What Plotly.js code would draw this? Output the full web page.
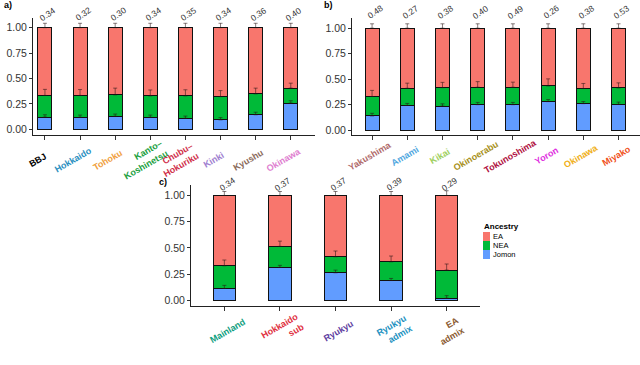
<!DOCTYPE html>
<html><head><meta charset="utf-8">
<script src="https://cdn.plot.ly/plotly-3.0.1.min.js"></script>
<style>html,body{margin:0;padding:0;background:#fff}</style>
</head><body><div id="chart" style="width:640px;height:365px"></div>
<script>
// ---- series ----
const seriesNames = ['EA', 'NEA', 'Jomon'];
const seriesColors = ['#F8766D', '#00BA38', '#619CFF'];

// ---- panel a ----
const catsA = ['BBJ', 'Hokkaido', 'Tohoku', 'Kanto–Koshinetsu', 'Chubu–Hokuriku', 'Kinki', 'Kyushu', 'Okinawa'];
const tickTextA = ['BBJ', 'Hokkaido', 'Tohoku', 'Kanto–<br>Koshinetsu', 'Chubu–<br>Hokuriku', 'Kinki', 'Kyushu', 'Okinawa'];
const tickColorsA = ['#000000', '#2A8FC0', '#F0A040', '#20A040', '#D0304A', '#A080D0', '#8A6A5A', '#E080D0'];
const jomonA = [0.120, 0.118, 0.128, 0.118, 0.108, 0.093, 0.143, 0.258];
const neaA   = [0.213, 0.215, 0.211, 0.211, 0.221, 0.229, 0.206, 0.147];
const eaA    = [0.667, 0.667, 0.661, 0.671, 0.671, 0.678, 0.651, 0.595];
const jomonErrA = [0.023, 0.022, 0.022, 0.022, 0.022, 0.022, 0.025, 0.023];
const neaErrA   = [0.060, 0.058, 0.066, 0.058, 0.060, 0.059, 0.056, 0.049];
const eaErrA    = [0.043, 0.043, 0.043, 0.043, 0.043, 0.043, 0.043, 0.043];
const labelsA = ['0.34', '0.32', '0.30', '0.34', '0.35', '0.34', '0.36', '0.40'];

// ---- panel b ----
const catsB = ['Yakushima', 'Amami', 'Kikai', 'Okinoerabu', 'Tokunoshima', 'Yoron', 'Okinawa', 'Miyako'];
const tickTextB = ['Yakushima', 'Amami', 'Kikai', 'Okinoerabu', 'Tokunoshima', 'Yoron', 'Okinawa', 'Miyako'];
const tickColorsB = ['#B06A6A', '#50A8E0', '#A0D060', '#A89020', '#B01040', '#E030E0', '#F0B020', '#F05020'];
const jomonB = [0.138, 0.241, 0.235, 0.249, 0.249, 0.279, 0.259, 0.252];
const neaB   = [0.191, 0.169, 0.181, 0.171, 0.171, 0.154, 0.148, 0.161];
const eaB    = [0.671, 0.590, 0.584, 0.580, 0.580, 0.567, 0.593, 0.587];
const jomonErrB = [0.026, 0.020, 0.022, 0.022, 0.022, 0.020, 0.020, 0.022];
const neaErrB   = [0.060, 0.050, 0.052, 0.055, 0.050, 0.069, 0.050, 0.050];
const eaErrB    = [0.043, 0.043, 0.043, 0.043, 0.043, 0.043, 0.043, 0.043];
const labelsB = ['0.48', '0.27', '0.38', '0.40', '0.49', '0.26', '0.38', '0.53'];

// ---- panel c ----
const catsC = ['Mainland', 'Hokkaido sub', 'Ryukyu', 'Ryukyu admix', 'EA admix'];
const tickTextC = ['Mainland', 'Hokkaido<br>sub', 'Ryukyu', 'Ryukyu<br>admix', 'EA<br>admix'];
const tickColorsC = ['#10A080', '#E03040', '#6040A0', '#2090C0', '#8A5A30'];
const jomonC = [0.112, 0.313, 0.262, 0.188, 0.019];
const neaC   = [0.217, 0.201, 0.153, 0.179, 0.269];
const eaC    = [0.671, 0.486, 0.585, 0.633, 0.712];
const jomonErrC = [0.030, 0.020, 0.025, 0.020, 0.025];
const neaErrC   = [0.055, 0.050, 0.055, 0.055, 0.058];
const eaErrC    = [0.038, 0.038, 0.038, 0.038, 0.045];
const labelsC = ['0.34', '0.37', '0.37', '0.39', '0.29'];

const FONT = 'Liberation Sans, Arial, Helvetica, sans-serif';
const W = 640, H = 365;

const traces = [];
const annotations = [];
function addPanel(cats, jomon, nea, ea, jErr, nErr, eErr, labels, xa, ya, labelShift) {
  const stack = [[jomon, 2], [nea, 1], [ea, 0]];
  stack.forEach(([vals, si]) => {
    traces.push({
      type: 'bar', x: cats, y: vals, xaxis: xa, yaxis: ya, name: seriesNames[si],
      width: 0.4, marker: {color: seriesColors[si], line: {color: '#111', width: 1}},
      showlegend: false, hoverinfo: 'skip'
    });
  });
  const c1 = jomon.slice();
  const c2 = jomon.map((v, i) => v + nea[i]);
  const c3 = jomon.map((v, i) => v + nea[i] + ea[i]);
  [[c1, jErr], [c2, nErr], [c3, eErr]].forEach(([ys, errs]) => {
    traces.push({
      type: 'scatter', mode: 'markers', x: cats, y: ys, xaxis: xa, yaxis: ya,
      marker: {size: 1, color: 'rgba(0,0,0,0)'}, showlegend: false, hoverinfo: 'skip',
      error_y: {type: 'data', symmetric: false, array: errs, arrayminus: errs.map(() => 0),
        color: 'rgba(40,20,20,0.55)', thickness: 1, width: 2}
    });
  });
  labels.forEach((t, i) => {
    annotations.push({xref: xa, yref: ya + ' domain', x: cats[i], y: 1, yanchor: 'middle', yshift: labelShift,
      text: t, showarrow: false, textangle: -35, xshift: 3,
      font: {family: FONT, size: 8.5, color: '#333'}});
  });
}
addPanel(catsA, jomonA, neaA, eaA, jomonErrA, neaErrA, eaErrA, labelsA, 'x', 'y', 4);
addPanel(catsB, jomonB, neaB, eaB, jomonErrB, neaErrB, eaErrB, labelsB, 'x2', 'y2', 6);
addPanel(catsC, jomonC, neaC, eaC, jomonErrC, neaErrC, eaErrC, labelsC, 'x3', 'y3', 1);

// category labels (rotated, coloured, bold), centred under each tick
function addCatLabels(cats, texts, colors, xa, ya, dx, dy) {
  cats.forEach((c, i) => {
    annotations.push({xref: xa, yref: ya + ' domain', x: c, y: 0, xanchor: 'center', yanchor: 'middle',
      xshift: dx, yshift: -dy, textangle: -30, align: 'right', showarrow: false, borderpad: 0,
      text: texts[i].split('<br>').map(p => '<b>' + p + '</b>').join('<br>'),
      font: {family: FONT, size: 9, color: colors[i]}});
  });
}
addCatLabels(catsA, tickTextA, tickColorsA, 'x', 'y', -7, 25.5);
addCatLabels(catsB, tickTextB, tickColorsB, 'x2', 'y2', -2, 21);
addCatLabels(catsC, tickTextC, tickColorsC, 'x3', 'y3', 3, 24.5);

function xAxis(domainPx, range, cats, anchor) {
  return {domain: [domainPx[0] / W, domainPx[1] / W], anchor: anchor, type: 'category', range: range,
    showline: true, linecolor: '#222', linewidth: 1, ticks: 'outside', ticklen: 4, tickcolor: '#333',
    tickvals: cats, showticklabels: false, showgrid: false, zeroline: false, fixedrange: true};
}
function yAxis(domainPx, range, anchor) {
  return {domain: [1 - domainPx[1] / H, 1 - domainPx[0] / H], anchor: anchor, range: range,
    showline: true, linecolor: '#222', linewidth: 1, ticks: 'outside', ticklen: 3, tickcolor: '#333',
    tickvals: [0, 0.25, 0.5, 0.75, 1], ticktext: ['0.00', '0.25', '0.50', '0.75', '1.00'],
    tickfont: {family: FONT, size: 10.5, color: '#333'}, showgrid: false, zeroline: false, fixedrange: true};
}

// panel tags
[['a)', 2, 5], ['b)', 322, 5], ['c)', 157, 182]].forEach(([t, px, py]) => {
  annotations.push({xref: 'paper', yref: 'paper', x: px / W, y: 1 - py / H, xanchor: 'left', yanchor: 'middle',
    text: '<b>' + t + '</b>', showarrow: false, font: {family: FONT, size: 9, color: '#000'}});
});

// manual legend
const shapes = [];
annotations.push({xref: 'paper', yref: 'paper', x: 482 / W, y: 1 - 226 / H, xanchor: 'left', yanchor: 'middle',
  text: '<b>Ancestry</b>', showarrow: false, font: {family: FONT, size: 8, color: '#000'}});
seriesNames.forEach((n, i) => {
  const top = 232 + i * 9;
  shapes.push({type: 'rect', xref: 'paper', yref: 'paper', x0: 483 / W, x1: 490 / W,
    y0: 1 - (top + 9) / H, y1: 1 - top / H, fillcolor: seriesColors[i], line: {width: 0}});
  annotations.push({xref: 'paper', yref: 'paper', x: 492 / W, y: 1 - (top + 4.5) / H, xanchor: 'left', yanchor: 'middle',
    text: n, showarrow: false, borderpad: 0, font: {family: FONT, size: 7.5, color: '#000'}});
});

const layout = {
  width: W, height: H, margin: {l: 0, r: 0, t: 0, b: 0}, autosize: false,
  paper_bgcolor: '#fff', plot_bgcolor: '#fff', barmode: 'stack', showlegend: false,
  xaxis: xAxis([33, 315], [-0.34, 7.69], catsA, 'y'),
  yaxis: yAxis([18, 135], [-0.056, 1.095], 'x'),
  xaxis2: xAxis([352, 640], [-0.57, 7.61], catsB, 'y2'),
  yaxis2: yAxis([18, 135], [-0.049, 1.10], 'x2'),
  xaxis3: xAxis([191, 480], [-0.6, 4.6], catsC, 'y3'),
  yaxis3: yAxis([185, 306], [-0.055, 1.10], 'x3'),
  annotations: annotations, shapes: shapes
};
Plotly.newPlot('chart', traces, layout, {displayModeBar: false, staticPlot: true});
</script></body></html>
